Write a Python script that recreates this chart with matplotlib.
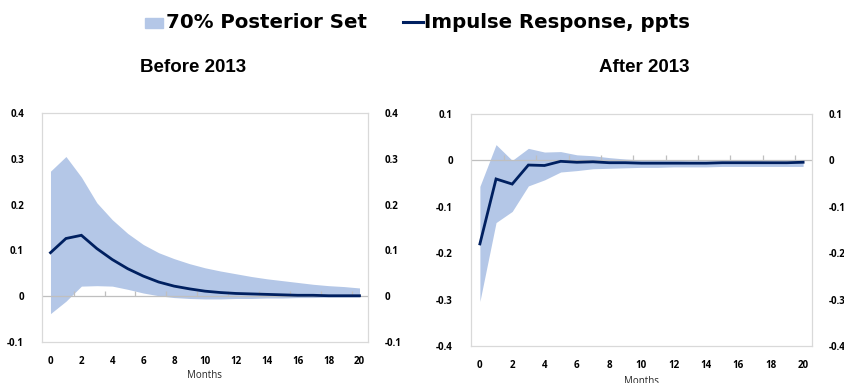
import numpy as np
import matplotlib
matplotlib.use("Agg")
import matplotlib.pyplot as plt
from matplotlib.patches import Rectangle
from matplotlib.lines import Line2D

months = np.arange(21)

# Before 2013
pre_irf = [0.095, 0.126, 0.133, 0.104, 0.080, 0.060, 0.044, 0.031, 0.022, 0.016,
           0.011, 0.008, 0.006, 0.005, 0.004, 0.003, 0.002, 0.002, 0.001, 0.001, 0.001]
pre_hi = [0.273, 0.305, 0.260, 0.204, 0.167, 0.137, 0.113, 0.095, 0.082, 0.071,
          0.062, 0.055, 0.049, 0.043, 0.038, 0.034, 0.030, 0.026, 0.023, 0.021, 0.018]
pre_lo = [-0.038, -0.011, 0.022, 0.023, 0.022, 0.015, 0.007, 0.001, -0.003, -0.005,
          -0.006, -0.006, -0.005, -0.005, -0.004, -0.004, -0.003, -0.003, -0.002, -0.002, -0.002]

# After 2013
post_irf = [-0.180, -0.040, -0.051, -0.010, -0.011, -0.002, -0.004, -0.003, -0.005, -0.005,
            -0.006, -0.006, -0.006, -0.006, -0.006, -0.005, -0.005, -0.005, -0.005, -0.005, -0.004]
post_hi = [-0.056, 0.034, 0.000, 0.026, 0.018, 0.019, 0.012, 0.010, 0.006, 0.003,
           0.001, 0.000, 0.000, -0.001, -0.001, -0.001, -0.001, -0.001, -0.002, -0.002, -0.002]
post_lo = [-0.304, -0.134, -0.110, -0.055, -0.042, -0.025, -0.022, -0.018, -0.017, -0.016,
           -0.015, -0.015, -0.014, -0.014, -0.014, -0.013, -0.013, -0.013, -0.013, -0.013, -0.013]

legend_labels = ["70% Posterior Set", "Impulse Response, ppts"]

FILL = "#B4C7E7"
LINE = "#002060"
GRID = "#D9D9D9"
ZERO = "#BFBFBF"
TICK_FONT = dict(family="Open Sans", weight="bold", size=7)

W, H = 845, 383
fig = plt.figure(figsize=(W / 100, H / 100), dpi=100)


def fx(px):
    return px / W


def fy(py):
    return 1 - py / H


def panel(rect, irf, lo, hi, ylim, yticks, xlab_y):
    ax = fig.add_axes(rect)
    ax.fill_between(months, lo, hi, color=FILL, lw=0, zorder=1)
    ax.axhline(0, color=ZERO, lw=0.9, zorder=2)
    ax.plot(np.arange(1.5, 20, 2), np.zeros(10), ls="none", marker=2,
            ms=3.5, mew=0.9, color=ZERO, zorder=2)
    ax.plot(months, irf, color=LINE, lw=2.0, zorder=3, solid_joinstyle="miter")
    ax.set_xlim(-0.55, 20.55)
    ax.set_ylim(*ylim)
    ax.set_xticks(range(0, 21, 2))
    ax.set_yticks(yticks)
    for s in ax.spines.values():
        s.set_color(GRID)
        s.set_linewidth(0.9)
    ax.tick_params(length=0, colors="black")
    ax.tick_params(axis="x", pad=10)
    ax.tick_params(axis="y", pad=13)
    ax.set_xticklabels([str(v) for v in range(0, 21, 2)], fontdict=TICK_FONT)
    labels = ["0" if v == 0 else f"{v:.1f}" for v in yticks]
    ax.set_yticklabels(labels, fontdict=TICK_FONT)
    ax2 = ax.twinx()
    ax2.set_ylim(*ylim)
    ax2.set_yticks(yticks)
    ax2.set_yticklabels(labels, fontdict=TICK_FONT, ha="left")
    ax2.tick_params(length=0, pad=12)
    for s in ax2.spines.values():
        s.set_visible(False)
    x0, y0, w, h = rect
    fig.text(x0 + w / 2, xlab_y, "Months", ha="center", va="center",
             family="Open Sans", size=7, color="#262626")
    return ax


panel([fx(42), fy(342), fx(326), 229 / H], pre_irf, pre_lo, pre_hi,
      (-0.1, 0.4), [-0.1, 0, 0.1, 0.2, 0.3, 0.4], fy(376))
panel([fx(471), fy(346), fx(341), 232 / H], post_irf, post_lo, post_hi,
      (-0.4, 0.1), [-0.4, -0.3, -0.2, -0.1, 0, 0.1], fy(381))

fig.text(fx(193), fy(68), "Before 2013", ha="center", va="center",
         family="Liberation Sans", weight="bold", size=13.5)
fig.text(fx(644), fy(68), "After 2013", ha="center", va="center",
         family="Liberation Sans", weight="bold", size=13.5)

# legend drawn in figure coordinates
leg_font = dict(family="DejaVu Sans", weight="bold", size=14.2)
fig.patches.append(Rectangle((fx(145), fy(28)), fx(18), 10 / H, color=FILL,
                             transform=fig.transFigure, figure=fig))
fig.text(fx(166), fy(23), legend_labels[0], ha="left", va="center", **leg_font)
fig.lines.append(Line2D([fx(403), fx(423)], [fy(22), fy(22)], color=LINE, lw=2.2,
                        transform=fig.transFigure, figure=fig))
fig.text(fx(424), fy(23), legend_labels[1], ha="left", va="center", **leg_font)

fig.savefig("out.png", dpi=100, facecolor="white")
